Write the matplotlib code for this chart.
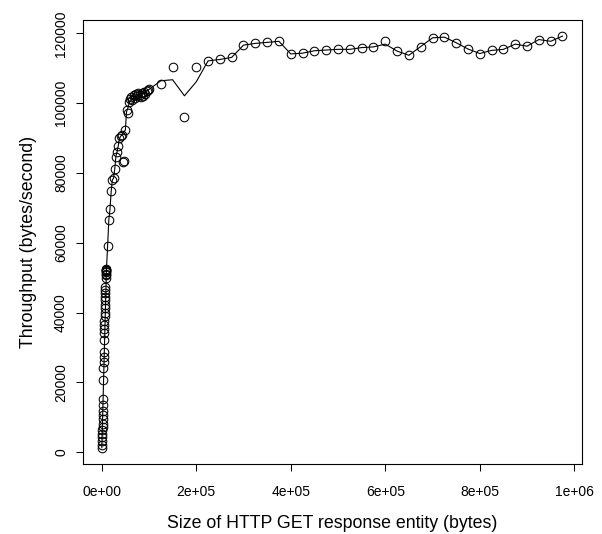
import matplotlib
matplotlib.use("Agg")
import matplotlib.pyplot as plt

plt.rcParams["font.family"] = ["Liberation Sans", "DejaVu Sans"]

# response entity size (bytes) and measured throughput (bytes/second)
size_small = [250, 500, 750, 1000, 1250, 1500, 1750, 2000, 2250, 2500,
              2750, 3000, 3250, 3500, 3750, 4000, 4250, 4500, 4750, 5000,
              5250, 5500, 5750, 6000, 6250, 6500, 6750, 7000, 7250, 7500,
              7750, 8000, 8250, 8500, 8750, 9000, 9250, 9500, 9750, 10000]
tput_small = [1300, 2200, 3300, 4300, 5200, 6300, 7300, 8200, 9400, 10600,
              11900, 13500, 15400, 20700, 24100, 25900, 27400, 28800, 32200, 34200,
              35300, 36500, 37600, 38900, 40000, 41200, 42300, 43500, 44600, 45600,
              46600, 47400, 49900, 50900, 51100, 51700, 51900, 52100, 52300, 52400]

size_mid = [12500, 15000, 17500, 20000, 22500, 25000, 27500, 30000, 32500,
            35000, 37500, 40000, 42500, 45000, 47500, 50000, 52500, 55000,
            57500, 60000, 62500, 65000, 67500, 70000, 72500, 75000, 77500,
            80000, 82500, 85000, 87500, 90000, 92500, 95000, 97500, 100000]
tput_mid = [59100, 66500, 69600, 74700, 78000, 78500, 81000, 84700, 86100,
            87800, 89900, 90500, 90900, 83100, 83500, 92300, 98000, 97300,
            100300, 101100, 101800, 100800, 102200, 101500, 102600, 102000, 103000,
            102300, 101700, 102900, 102100, 103300, 102600, 103500, 103900, 104000]

size_large = [125000, 150000, 175000, 200000, 225000, 250000, 275000, 300000,
              325000, 350000, 375000, 400000, 425000, 450000, 475000, 500000,
              525000, 550000, 575000, 600000, 625000, 650000, 675000, 700000,
              725000, 750000, 775000, 800000, 825000, 850000, 875000, 900000,
              925000, 950000, 975000]
tput_large = [105500, 110400, 96000, 110400, 112200, 112500, 113100, 116600,
              117100, 117400, 117700, 114100, 114300, 115000, 115200, 115400,
              115400, 115900, 116100, 117900, 114900, 113700, 116200, 118700,
              118900, 117300, 115500, 114200, 115100, 115400, 116900, 116300,
              118200, 117700, 119200]

# smoothed trend line
trend_x = [250, 10000, 12500, 15000, 17500, 20000, 22500, 25000, 27500, 30000,
           32500, 35000, 37500, 40000, 42500, 45000, 47500, 50000, 52500, 55000,
           60000, 70000, 80000, 90000, 100000] + size_large
trend_y = [1300, 52400, 59100, 66500, 69600, 74700, 78000, 78500, 81000, 84700,
           86100, 87800, 89900, 90500, 90900, 91300, 91800, 92300, 97500, 98500,
           100800, 101800, 102500, 103000, 103900,
           106400, 106700, 102100, 106100, 112100, 112500, 113100, 116600,
           117100, 117400, 117700, 114100, 114300, 115000, 115200, 115400,
           115400, 115900, 116100, 116900, 114900, 113700, 116200, 118700,
           118900, 117300, 115500, 114200, 115100, 115400, 116900, 116300,
           118200, 117700, 119200]

sizes = size_small + size_mid + size_large
tputs = tput_small + tput_mid + tput_large

xticks = [0, 200000, 400000, 600000, 800000, 1000000]
xticklabels = ["0e+00", "2e+05", "4e+05", "6e+05", "8e+05", "1e+06"]
yticks = [0, 20000, 40000, 60000, 80000, 100000, 120000]

fig = plt.figure(figsize=(6.02, 5.34), dpi=100)
ax = fig.add_axes([0.1384, 0.1311, 0.8279, 0.8315])

ax.plot(sizes, tputs, "o", mfc="none", mec="black", ms=6.2, mew=0.75)
ax.plot(trend_x, trend_y, color="black", lw=0.8)

ax.set_xlim(-38934, 1015680)
ax.set_ylim(-3351, 123813)
ax.set_xticks(xticks)
ax.set_xticklabels(xticklabels)
ax.set_yticks(yticks)
ax.set_yticklabels([str(v) for v in yticks], rotation=90, va="center")
ax.tick_params(direction="out", length=5, width=0.75, labelsize=10)
ax.tick_params(axis="x", pad=10)
ax.tick_params(axis="y", pad=6)
for s in ax.spines.values():
    s.set_linewidth(0.8)

ax.set_xlabel("Size of HTTP GET response entity (bytes)", fontsize=12.8, labelpad=11.5)
ax.set_ylabel("Throughput (bytes/second)", fontsize=12.8, labelpad=12)

fig.savefig("out.png", dpi=100)
